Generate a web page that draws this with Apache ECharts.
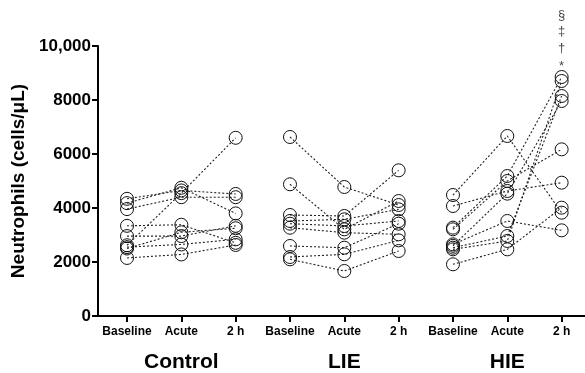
<!DOCTYPE html>
<html>
<head>
<meta charset="utf-8">
<script src="https://cdn.jsdelivr.net/npm/echarts@6/dist/echarts.min.js"></script>
<style>html,body{margin:0;padding:0;background:#fff}#c{width:585px;height:373px}</style>
</head>
<body>
<div id="c"></div>
<script>
var timepoints = ['Baseline', 'Acute', '2 h'];
var groups = ['Control', 'LIE', 'HIE'];
var yTickLabels = ['0', '2000', '4000', '6000', '8000', '10,000'];
// each row: one subject [Baseline, Acute, 2 h]
var controlData = [
  [4340, 4650, 4520],
  [4180, 4750, 3800],
  [3960, 4400, 4400],
  [3340, 3380, 2710],
  [2960, 2960, 3340],
  [2620, 4550, 6600],
  [2500, 3100, 3250],
  [2550, 2650, 2840],
  [2150, 2280, 2630]
];
var lieData = [
  [6630, 4778, 4111],
  [4878, 3210, 4259],
  [3741, 3704, 5396],
  [3519, 3581, 3951],
  [3419, 3333, 3519],
  [3270, 3086, 3025],
  [2593, 2530, 3419],
  [2185, 2284, 2802],
  [2099, 1667, 2407]
];
var hieData = [
  [4481, 6667, 3827],
  [4074, 4630, 4938],
  [3272, 5185, 8852],
  [3210, 5000, 6173],
  [2654, 3519, 3173],
  [2531, 2963, 8148],
  [2469, 2778, 8704],
  [2600, 4531, 7963],
  [1914, 2469, 4012]
];
var annotations = ['§', '‡', '†', '*'];
var annotationY = [11150, 10530, 9915, 9260];

var FONT = '"Liberation Sans", Arial, sans-serif';
var allGroups = [controlData, lieData, hieData];
var series = [];
allGroups.forEach(function (gd, g) {
  gd.forEach(function (subj) {
    series.push({
      type: 'line',
      xAxisIndex: 0,
      data: subj.map(function (v, i) { return [g * 3 + i, v]; }),
      symbol: 'circle',
      symbolSize: 13,
      itemStyle: { color: 'rgba(255,255,255,0)', borderColor: '#111', borderWidth: 1 },
      lineStyle: { type: [2, 2], color: '#222', width: 1.1 },
      silent: true,
      animation: false
    });
  });
});
series.push({
  type: 'scatter',
  clip: false,
  symbolSize: 1,
  itemStyle: { color: 'rgba(0,0,0,0)' },
  data: annotations.map(function (a, i) { return [8, annotationY[i], a]; }),
  label: {
    show: true, position: 'inside', color: '#111', fontSize: 13, fontFamily: FONT,
    formatter: function (p) { return p.data[2]; }
  },
  silent: true,
  animation: false
});

var tickVals = [0, 1, 2, 3, 4, 5, 6, 7, 8];
var chart = echarts.init(document.getElementById('c'));
chart.setOption({
  animation: false,
  backgroundColor: '#fff',
  grid: { left: 98, right: 0, top: 46, bottom: 57 },
  xAxis: [{
    type: 'value', min: -0.534, max: 8.43,
    splitLine: { show: false },
    axisLine: { show: true, onZero: false, lineStyle: { color: '#000', width: 2 } },
    axisTick: { show: true, customValues: tickVals, length: 6, lineStyle: { color: '#000', width: 2 } },
    axisLabel: {
      customValues: tickVals, margin: 10, color: '#000', fontSize: 12, fontWeight: 'bold', fontFamily: FONT,
      formatter: function (v) { return timepoints[Math.round(v) % 3]; }
    }
  }, {
    type: 'value', min: -0.534, max: 8.43, position: 'bottom',
    splitLine: { show: false },
    axisLine: { show: false, onZero: false },
    axisTick: { show: false },
    axisLabel: {
      customValues: [1, 4, 7], margin: 36, color: '#000', fontSize: 21, fontWeight: 'bold', fontFamily: FONT,
      formatter: function (v) { return groups[Math.round((v - 1) / 3)]; }
    }
  }],
  yAxis: {
    type: 'value', min: 0, max: 10000, interval: 2000,
    name: 'Neutrophils (cells/μL)', nameLocation: 'middle', nameGap: 69,
    nameTextStyle: { color: '#000', fontSize: 19, fontWeight: 'bold', fontFamily: FONT },
    splitLine: { show: false },
    axisLine: { show: true, onZero: false, lineStyle: { color: '#000', width: 2 } },
    axisTick: { show: true, length: 6, lineStyle: { color: '#000', width: 2 } },
    axisLabel: {
      margin: 7, color: '#000', fontSize: 17, fontWeight: 'bold', fontFamily: FONT,
      formatter: function (v) { return yTickLabels[Math.round(v / 2000)]; }
    }
  },
  series: series
});
</script>
</body>
</html>
